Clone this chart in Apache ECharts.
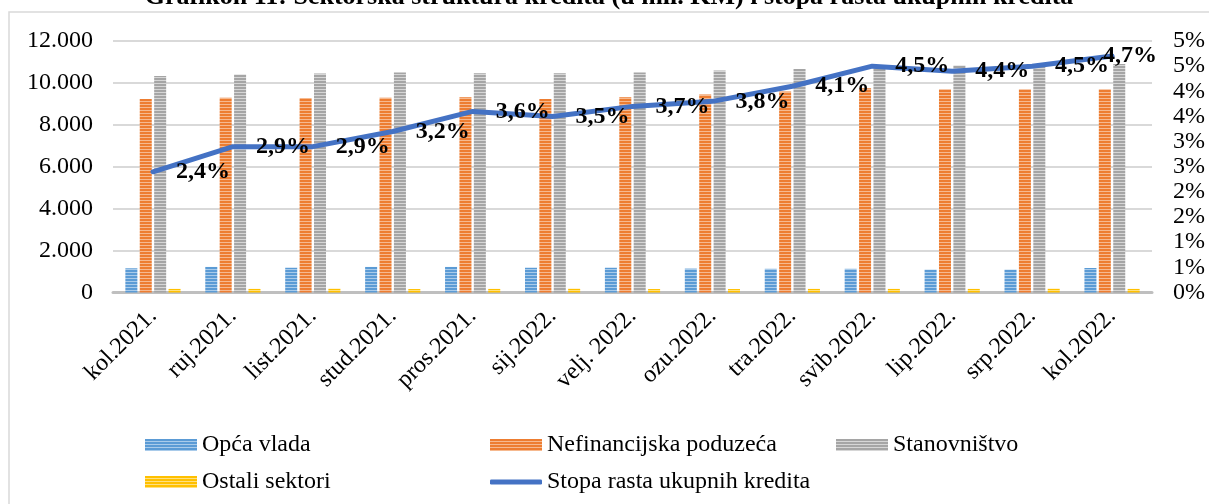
<!DOCTYPE html>
<html>
<head>
<meta charset="utf-8">
<script src="https://cdn.jsdelivr.net/npm/echarts@6/dist/echarts.min.js"></script>
<style>
html,body{margin:0;padding:0;background:#fff;}
#chart{width:1209px;height:504px;}
</style>
</head>
<body>
<div id="chart"></div>
<script>
const titleText = 'Grafikon 11: Sektorska struktura kredita (u mil. KM) i stopa rasta ukupnih kredita';
const categories = ['kol.2021.','ruj.2021.','list.2021.','stud.2021.','pros.2021.','sij.2022.','velj. 2022.','ozu.2022.','tra.2022.','svib.2022.','lip.2022.','srp.2022.','kol.2022.'];
const seriesNames = ['Opća vlada','Nefinancijska poduzeća','Stanovništvo','Ostali sektori','Stopa rasta ukupnih kredita'];
const opcaVlada = [1155,1220,1180,1220,1220,1180,1180,1140,1130,1130,1090,1090,1170];
const nefinancijska = [9236,9298,9284,9298,9317,9236,9317,9442,9585,9747,9699,9699,9699];
const stanovnistvo = [10334,10396,10444,10492,10463,10463,10492,10587,10668,10740,10826,10859,10907];
const ostali = [170,170,175,165,170,175,165,165,170,170,170,175,170];
const stopaRasta = [2.4,2.9,2.9,3.2,3.6,3.5,3.7,3.8,4.1,4.5,4.4,4.5,4.7];
const leftTickLabels = ['0','2.000','4.000','6.000','8.000','10.000','12.000'];
const rightTickLabels = ['0%','1%','1%','2%','2%','3%','3%','4%','4%','5%','5%'];

const FONT = "'Liberation Serif','Times New Roman',serif";

function stripe(base, light){
  const c = document.createElement('canvas');
  c.width = 4; c.height = 3;
  const g = c.getContext('2d');
  g.fillStyle = base; g.fillRect(0,0,4,3);
  g.fillStyle = light; g.fillRect(0,2,4,1);
  return {image: c, repeat: 'repeat'};
}
const colBlue = stripe('#5B9BD5','#a9cbea');
const colOrange = stripe('#ED7D31','#f6b98f');
const colGray = stripe('#A5A5A5','#d6d6d6');
const colYellow = stripe('#FFC000','#ffe080');

const chart = echarts.init(document.getElementById('chart'), null, {renderer:'canvas'});

function barSeries(name, data, color){
  return {
    name: name, type: 'bar', data: data, barWidth: 12, barGap: '20%',
    itemStyle: {color: color}, xAxisIndex: 0, yAxisIndex: 0
  };
}

const labelBase = {show: true, position: 'right', distance: 23, offset: [0, 6],
  fontFamily: FONT, fontSize: 24, fontWeight: 'bold', color: '#000'};

const lineData = stopaRasta.map((v,i) => {
  if (i === stopaRasta.length - 1) {
    return {value: v, label: Object.assign({}, labelBase, {distance: -9, offset: [0, -6]})};
  }
  return v;
});

function legendAt(name, left, top, extra){
  return Object.assign({
    data: [name], left: left, top: top, orient: 'horizontal', padding: 0,
    itemWidth: 52, itemHeight: 12, icon: 'rect',
    textStyle: {fontFamily: FONT, fontSize: 24, color: '#000'},
    selectedMode: false
  }, extra || {});
}

const option = {
  animation: false,
  backgroundColor: '#fff',
  grid: {left: 113, right: 57, top: 41, height: 251.5, containLabel: false},
  graphic: [
    {type: 'rect', shape: {x: 9, y: 12, width: 1260, height: 600}, style: {fill: 'none', stroke: '#d9d9d9', lineWidth: 1.5}, z: -10},
    {type: 'text', x: 609, y: -16, style: {text: titleText, fontFamily: FONT, fontSize: 26, fontWeight: 'bold', fill: '#000', textAlign: 'center', textVerticalAlign: 'top'}}
  ],
  legend: [
    legendAt(seriesNames[0], 145, 433),
    legendAt(seriesNames[1], 490, 433),
    legendAt(seriesNames[2], 836, 433),
    legendAt(seriesNames[3], 145, 470),
    legendAt(seriesNames[4], 490, 470, {itemHeight: 5, icon: 'roundRect'})
  ],
  xAxis: [{
    type: 'category', data: categories,
    axisLine: {show: true, lineStyle: {color: '#BFBFBF', width: 3}},
    axisTick: {show: false},
    axisLabel: {rotate: 45, margin: 20, fontFamily: FONT, fontSize: 24, color: '#000', interval: 0}
  }],
  yAxis: [{
    type: 'value', min: 0, max: 12000, interval: 2000, position: 'left',
    axisLine: {show: false}, axisTick: {show: false},
    axisLabel: {margin: 20, fontFamily: FONT, fontSize: 24, color: '#000',
      formatter: (v) => leftTickLabels[Math.round(v / 2000)]},
    splitLine: {show: true, lineStyle: {color: '#D9D9D9', width: 2}}
  }, {
    type: 'value', min: 0, max: 5, interval: 0.5, position: 'right',
    axisLine: {show: false}, axisTick: {show: false},
    axisLabel: {margin: 21, fontFamily: FONT, fontSize: 24, color: '#000',
      formatter: (v) => rightTickLabels[Math.round(v / 0.5)]},
    splitLine: {show: false}
  }],
  series: [
    barSeries(seriesNames[0], opcaVlada, colBlue),
    barSeries(seriesNames[1], nefinancijska, colOrange),
    barSeries(seriesNames[2], stanovnistvo, colGray),
    barSeries(seriesNames[3], ostali, colYellow),
    {
      name: seriesNames[4], type: 'line', data: lineData, yAxisIndex: 1,
      symbol: 'circle', symbolSize: 0, showSymbol: true,
      lineStyle: {color: '#4472C4', width: 5, cap: 'round', join: 'round'},
      itemStyle: {color: '#4472C4'},
      z: 5,
      labelLayout: {hideOverlap: false},
      label: Object.assign({}, labelBase, {
        formatter: (p) => String(p.value).replace('.', ',') + '%'})
    }
  ]
};
chart.setOption(option);
</script>
</body>
</html>
